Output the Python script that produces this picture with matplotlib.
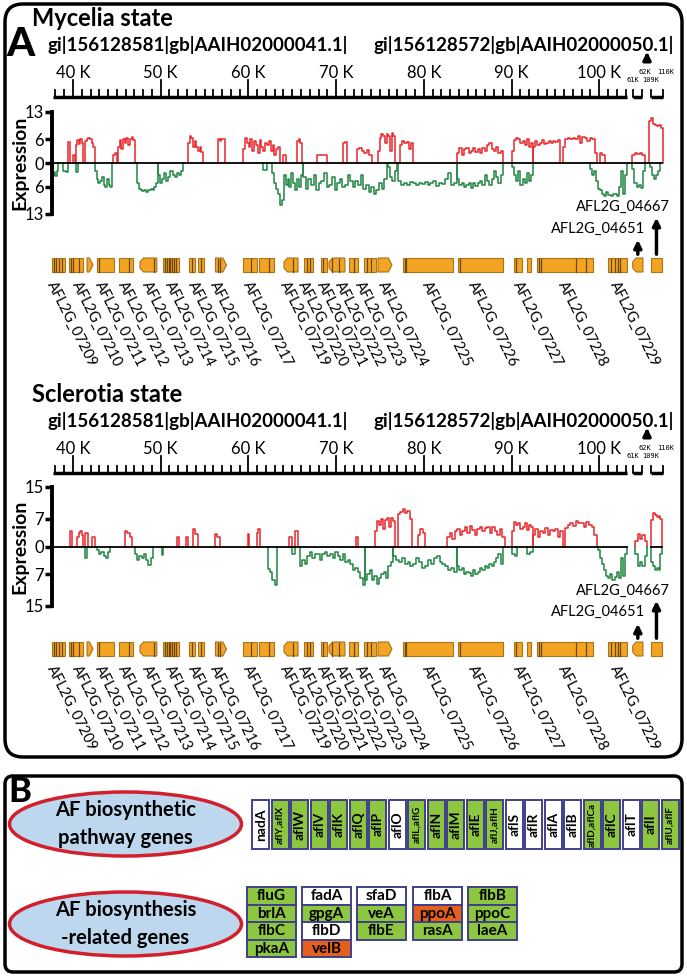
import numpy as np
import matplotlib.pyplot as plt
from matplotlib.patches import Polygon, FancyBboxPatch, Ellipse, Rectangle

plt.rcParams['font.family'] = ['Lato', 'DejaVu Sans']

W, H = 687, 977
RED = '#e8262b'
GREEN = '#1f8540'
ORANGE = '#f4a423'
GENE_EDGE = '#a8731a'
GENE_MARK = '#6b4712'
BOX_EDGE = '#40408a'
LEAF = '#8dc63f'
RUST = '#e5601c'

# ---- expression blocks: (start kb, end kb, |expression| values) ----
# contig 1 (gi|156128581), mycelia state
myc_up = [
    (39.43, 39.66, [5.4]), (40.03, 40.23, [2.1]),
    (40.34, 41.14, [4.5, 5.8, 4.8, 6.0, 5.2]),
    (41.37, 42.51, [5.5, 6.2, 6.4, 6.0, 5.0, 4.0]),
    (44.56, 45.02, [2.0, 2.5]),
    (45.13, 47.07, [4.0, 5.8, 3.5, 6.2, 5.0, 6.5, 4.5, 6.0, 6.6, 5.8]),
    (53.11, 54.82, [5.0, 6.8, 6.5, 4.0, 5.5, 4.2, 3.0, 4.0, 2.8]),
    (56.53, 57.33, [6.0, 5.5, 6.2, 6.0]),
    (59.38, 63.60, [3.5, 6.4, 5.0, 4.0, 6.0, 3.0, 5.5, 4.5, 2.5, 5.8, 4.0, 3.0,
                    5.0, 4.5, 5.5, 3.0, 4.5, 2.0, 3.5, 4.0]),
    (63.94, 64.29, [2.0]), (65.54, 66.11, [5.5, 6.2, 5.0]),
    (67.82, 68.96, [2.0, 2.0]), (70.79, 71.24, [5.0, 5.4]),
    (72.38, 74.09, [3.5, 3.8, 3.0, 2.5, 3.4, 2.0]),
    (74.78, 76.72, [3.0, 6.5, 7.3, 6.8, 5.0, 7.5, 7.0, 3.0, 7.6, 6.8]),
    (77.29, 78.77, [4.5, 5.5, 5.0, 5.3, 3.5, 5.0]),
    (83.79, 89.03, [2.5, 3.8, 2.0, 3.5, 3.8, 2.5, 3.0, 3.7, 2.8, 3.5, 2.5, 3.9,
                    3.0, 4.5, 5.0, 3.5, 3.0, 4.0, 2.5, 3.0]),
    (90.06, 92.45, [3.0, 5.8, 6.4, 6.0, 5.0, 5.5, 4.5, 6.2, 4.0, 5.0]),
    (92.45, 95.53, [4.0, 5.5, 4.5, 5.0, 5.8, 4.8, 5.2, 5.5, 5.0, 5.6, 5.3, 5.8]),
    (95.87, 99.75, [4.0, 6.0, 6.4, 6.2, 6.5, 6.0, 6.8, 5.0, 6.6, 6.3, 5.5, 6.5,
                    6.0, 2.5]),
    (100.09, 100.66, [2.5, 2.0]),
]
myc_down = [
    (37.61, 38.29, [3.0, 2.2, 3.2, 2.0]), (38.86, 39.43, [2.0, 2.2]),
    (40.34, 40.57, [2.2]),
    (42.51, 44.45, [2.0, 4.0, 5.0, 4.5, 3.5, 5.5, 6.0, 4.0, 5.5, 6.2]),
    (47.30, 49.69, [5.0, 6.5, 7.0, 7.2, 7.0, 7.3, 7.0, 6.8, 6.5, 7.0, 6.0, 5.0]),
    (49.69, 52.54, [3.0, 5.0, 4.0, 2.5, 4.5, 3.5, 2.0, 3.0, 3.5, 2.5, 3.0, 2.0]),
    (61.66, 62.12, [1.7]),
    (62.69, 66.23, [2.5, 5.0, 6.5, 8.0, 10.7, 9.5, 3.0, 5.5, 4.0, 6.0, 2.5, 5.0,
                    7.0, 4.0, 6.0, 3.0]),
    (66.23, 75.80, [3.5, 6.5, 4.0, 5.5, 3.0, 6.8, 5.0, 4.5, 2.5, 6.0, 5.5, 3.5,
                    7.0, 5.0, 4.0, 6.0, 5.5, 3.0, 4.5, 6.0, 4.5, 5.5, 3.0, 6.5,
                    5.5, 7.5, 6.0, 8.0, 7.0, 5.0, 6.5, 4.0]),
    (75.92, 76.94, [1.0, 3.5, 4.7, 2.0]),
    (77.06, 83.79, [4.5, 5.5, 5.0, 5.5, 4.8, 5.2, 5.6, 5.0, 5.4, 4.8, 5.5, 5.2,
                    4.6, 5.8, 5.0, 5.3, 4.0, 2.5, 5.5, 5.0]),
    (83.79, 89.03, [4.0, 5.5, 5.0, 6.2, 5.5, 5.0, 6.4, 5.0, 5.8, 5.2, 4.5, 5.5,
                    3.0, 4.5, 5.5, 4.0, 2.0, 3.5, 5.0, 3.0]),
    (90.06, 92.45, [1.0, 3.0, 4.5, 2.0, 5.5, 4.0, 5.0, 2.5, 4.5, 3.0]),
    (98.95, 103.17, [1.5, 3.0, 2.0, 4.5, 6.5, 7.0, 8.0, 8.5, 7.5, 8.2, 8.5, 7.8,
                     8.0, 8.4, 6.0, 2.0, 8.0, 3.0]),
]
# contig 1, sclerotia state
scl_up = [
    (39.66, 39.89, [4.0]), (40.46, 41.14, [2.5, 3.5, 3.8, 2.8]),
    (41.37, 41.71, [3.4]), (42.17, 42.51, [2.3]),
    (45.93, 46.73, [4.0, 3.5, 2.5]), (51.86, 52.09, [2.3]),
    (52.89, 53.11, [2.3]), (53.68, 54.25, [4.3, 3.2]),
    (56.19, 56.76, [3.2, 2.5]), (59.95, 60.07, [3.2]),
    (60.98, 61.32, [3.5, 4.4]), (64.63, 64.97, [2.3]),
    (65.31, 65.66, [3.8]), (72.27, 72.50, [2.3]),
    (74.44, 76.72, [4.0, 6.5, 5.5, 7.0, 4.5, 6.8, 7.2, 5.0, 7.3, 6.5]),
    (77.06, 78.65, [8.3, 8.8, 9.4, 8.5, 9.0, 7.0]),
    (79.34, 80.14, [3.0, 4.3, 3.5]),
    (82.65, 89.26, [2.5, 3.5, 2.0, 3.8, 4.5, 3.0, 4.0, 4.8, 3.5, 5.1, 4.2, 3.0,
                    4.5, 5.0, 3.8, 4.6, 5.0, 3.5, 4.8, 4.0, 3.0, 4.5, 2.5]),
    (90.06, 92.45, [4.0, 6.3, 5.5, 6.0, 4.5, 5.0, 5.8, 4.2, 5.5, 5.0]),
    (92.45, 95.87, [3.0, 4.5, 2.5, 4.0, 3.5, 4.7, 3.0, 4.2, 3.8, 4.5, 2.5, 4.0]),
    (96.10, 99.75, [4.7, 5.5, 6.0, 5.2, 6.4, 5.8, 6.0, 5.0, 6.2, 5.5, 4.8, 3.0]),
]
scl_down = [
    (41.37, 41.60, [3.0]),
    (42.74, 44.22, [1.0, 2.0, 1.5, 2.5, 3.0, 1.5]),
    (47.07, 49.12, [2.0, 3.5, 2.5, 3.0, 2.0, 3.5, 4.7, 3.0]),
    (50.15, 50.26, [2.1]),
    (62.23, 63.26, [5.6, 6.5, 8.5, 9.8]),
    (64.97, 65.31, [2.0]),
    (65.88, 73.30, [5.0, 3.5, 4.5, 2.5, 1.5, 3.0, 2.0, 1.8, 3.5, 2.0, 1.5, 2.5,
                    2.0, 3.0, 1.5, 2.5, 3.5, 2.0, 4.0, 3.5, 4.5, 6.0, 5.5, 6.5,
                    8.0, 9.8]),
    (73.30, 76.49, [8.5, 7.0, 6.0, 8.5, 7.5, 9.4, 8.0, 7.0, 6.5, 8.0, 5.0, 4.0]),
    (76.49, 83.79, [2.5, 3.5, 4.0, 3.0, 4.5, 4.0, 5.0, 4.5, 3.0, 4.0, 5.5, 5.0,
                    3.5, 4.5, 3.0, 2.5, 4.0, 4.5, 5.0, 6.0, 5.5, 6.4]),
    (83.79, 89.03, [5.0, 6.0, 5.5, 7.0, 6.5, 6.8, 7.5, 6.0, 7.0, 6.5, 5.5, 6.0,
                    5.0, 5.5, 4.5, 5.0, 4.0, 3.0, 2.0, 4.5]),
    (90.06, 90.63, [2.0, 2.5]), (91.77, 92.45, [2.0, 1.5]),
    (99.86, 103.17, [1.0, 3.0, 4.5, 6.0, 7.5, 8.0, 7.0, 8.5, 7.8, 6.5, 8.0, 3.0,
                     7.5, 2.0]),
]
# contig 2 (gi|156128572), positions in its own kb
myc_up_c2 = [(60.95, 62.30, [2.0, 2.5, 2.2, 2.5, 2.0]),
             (108.85, 109.95, [10.8, 11.5, 10.0, 9.8, 9.5, 9.6, 9.0])]
myc_down_c2 = [(60.95, 62.30, [1.5, 5.0, 6.0, 5.5, 6.4, 2.0]),
               (108.92, 109.75, [1.0, 3.0, 4.0, 3.0, 2.0])]
scl_up_c2 = [(61.26, 62.50, [1.3, 3.2, 2.0, 3.0, 1.5]),
             (109.00, 109.93, [6.8, 8.5, 8.0, 7.5, 7.8, 7.0])]
scl_down_c2 = [(61.26, 62.50, [2.0, 5.0, 4.0, 5.0, 2.5]),
               (109.00, 109.93, [4.0, 5.0, 6.0, 5.5, 6.0, 2.0])]

# ---- gene models (contig 1, kb) ----
gene_start = [37.55, 39.51, 41.60, 42.68, 45.25, 47.64, 50.26, 53.20, 54.23,
              56.24, 59.38, 61.21, 64.06, 66.34, 68.24, 69.19, 71.52, 73.18,
              74.78, 77.59, 83.90, 90.28, 91.73, 92.87, 101.00]
gene_end = [39.04, 41.14, 42.28, 44.65, 46.89, 49.56, 52.09, 53.91, 54.94,
            57.50, 60.98, 62.87, 65.66, 67.31, 68.96, 71.01, 72.45, 74.55,
            76.37, 83.30, 89.03, 91.16, 92.19, 99.29, 103.17]
gene_shape = ['box', 'box', 'arrow', 'box', 'box', 'round', 'box', 'box', 'box',
              'arrow', 'box', 'box', 'round', 'box', 'box', 'round', 'box', 'box',
              'arrow', 'box', 'box', 'box', 'box', 'box', 'box']
gene_marks = [[37.8, 38.1, 38.4, 38.7], [39.8, 40.0, 40.7], [], [43.0], [46.4],
              [49.2], [50.5, 50.7, 50.9, 51.1, 51.3, 51.5, 51.7], [53.6], [54.6],
              [56.5, 56.8], [60.3], [62.3], [65.1], [66.7, 67.0], [68.5],
              [69.5, 70.3], [72.0], [73.5, 74.0], [], [77.8, 78.0], [84.1],
              [90.5], [], [93.1, 93.4, 97.4, 98.5], [101.4, 101.8, 102.1, 102.4]]
c2_gene_start = [61.0, 109.0]
c2_gene_end = [62.08, 109.89]
c2_gene_shape = ['round', 'box']
c2_gene_names = ['AFL2G_04651', 'AFL2G_04667']

label_kb = [38.14, 40.99, 43.65, 46.27, 48.97, 51.63, 54.25, 56.76, 60.52,
            64.74, 66.80, 68.96, 71.02, 73.30, 75.92, 80.93, 86.18, 91.31,
            96.44, 102.37]
label_names = ['AFL2G_07209', 'AFL2G_07210', 'AFL2G_07211', 'AFL2G_07212',
               'AFL2G_07213', 'AFL2G_07214', 'AFL2G_07215', 'AFL2G_07216',
               'AFL2G_07217', 'AFL2G_07219', 'AFL2G_07220', 'AFL2G_07221',
               'AFL2G_07222', 'AFL2G_07223', 'AFL2G_07224', 'AFL2G_07225',
               'AFL2G_07226', 'AFL2G_07227', 'AFL2G_07228', 'AFL2G_07229']

# ---- panel B ----
pathway_genes = ['nadA', 'aflY,aflX', 'aflW', 'aflV', 'aflK', 'aflQ', 'aflP',
                 'aflO', 'aflL,aflG', 'aflN', 'aflM', 'aflE', 'aflJ,aflH', 'aflS',
                 'aflR', 'aflA', 'aflB', 'aflD,aflCa', 'aflC', 'aflT', 'aflI',
                 'aflU,aflF']
pathway_color = ['w', 'g', 'g', 'g', 'g', 'g', 'g', 'w', 'g', 'g', 'g', 'g', 'g',
                 'w', 'w', 'w', 'w', 'g', 'g', 'w', 'g', 'g']
related_cols = [['fluG', 'brlA', 'flbC', 'pkaA'],
                ['fadA', 'gpgA', 'flbD', 'velB'],
                ['sfaD', 'veA', 'flbE'],
                ['flbA', 'ppoA', 'rasA'],
                ['flbB', 'ppoC', 'laeA']]
related_color = [['g', 'g', 'g', 'g'],
                 ['w', 'g', 'w', 'o'],
                 ['w', 'g', 'g'],
                 ['w', 'o', 'g'],
                 ['g', 'g', 'g']]
FILL = {'w': 'white', 'g': LEAF, 'o': RUST}


def px2kb(px):
    return 40 + (px - 73) / 8.77


def c2(kb):
    # place contig-2 coordinates into the broken right end of the ruler
    kb = np.asarray(kb, float)
    return np.where(kb < 85, 103.82 + (kb - 61) * 1.083, 105.92 + (kb - 109) * 1.368)


def draw_blocks(ax, blocks, sign, color, xmap=None):
    for s, e, vals in blocks:
        vals = np.asarray(vals, float)
        edges = np.linspace(s, e, len(vals) + 1)
        if xmap is not None:
            edges = xmap(edges)
        xs = np.concatenate([[edges[0]], np.repeat(edges, 2)[1:-1], [edges[-1]]])
        ys = np.concatenate([[0], np.repeat(vals, 2), [0]]) * sign
        ax.plot(xs, ys, color=color, lw=1.1, zorder=2)


def gene_poly(s, e, shape, y0, y1):
    tip = 0.4
    ym = (y0 + y1) / 2
    if shape == 'arrow':
        pts = [(s, y0), (e - tip, y0), (e, ym), (e - tip, y1), (s, y1)]
    elif shape == 'round':
        pts = [(s + tip, y0), (e, y0), (e, y1), (s + tip, y1), (s, ym + 3), (s, ym - 3)]
    else:
        pts = [(s, y0), (e, y0), (e, y1), (s, y1)]
    return Polygon(pts, closed=True, fc=ORANGE, ec=GENE_EDGE, lw=0.8, zorder=3)


fig = plt.figure(figsize=(W / 100, H / 100), dpi=100)
ov = fig.add_axes([0, 0, 1, 1])
ov.set_xlim(0, W)
ov.set_ylim(H, 0)
ov.axis('off')
trk = fig.add_axes([0, 0, 1, 1], facecolor='none')
trk.set_xlim(px2kb(0), px2kb(W))
trk.set_ylim(H, 0)
trk.axis('off')

# panel frames
ov.add_patch(FancyBboxPatch((5, 4), 677, 753, boxstyle='round,pad=0,rounding_size=18',
                            fc='none', ec='k', lw=2.5))
ov.add_patch(FancyBboxPatch((5, 776), 677, 196, boxstyle='round,pad=0,rounding_size=8',
                            fc='none', ec='k', lw=2.5))
ov.text(20, 45, 'A', fontsize=29, fontweight='black', ha='center', va='center')
ov.text(20, 792, 'B', fontsize=25, fontweight='black', ha='center', va='center')

states = [
    dict(title='Mycelia state', y=0, top=112, bottom=214, lim=13, ticks=[-13, -6, 0, 6, 13],
         up=myc_up, down=myc_down, up2=myc_up_c2, down2=myc_down_c2,
         gene_y=258, lab_y=[207, 229], arrow_top=[237, 215]),
    dict(title='Sclerotia state', y=376, top=487, bottom=606, lim=15, ticks=[-15, -7, 0, 7, 15],
         up=scl_up, down=scl_down, up2=scl_up_c2, down2=scl_down_c2,
         gene_y=642, lab_y=[591, 612], arrow_top=[621, 598]),
]

for st in states:
    dy = st['y']
    ov.text(32, 19 + dy, st['title'], fontsize=17, fontweight='bold', va='center')
    ov.text(48, 45 + dy, 'gi|156128581|gb|AAIH02000041.1|', fontsize=13.5,
            fontweight='bold', va='center')
    ov.text(374, 45 + dy, 'gi|156128572|gb|AAIH02000050.1|', fontsize=13.5,
            fontweight='bold', va='center')
    ov.annotate('', xy=(647, 49 + dy), xytext=(647, 62 + dy),
                arrowprops=dict(arrowstyle='-|>', lw=2.5, color='k', mutation_scale=11))

    # ruler
    ry = 97 + dy
    trk.plot([37.7, 103.2], [ry, ry], color='k', lw=2.5, solid_capstyle='butt')
    for k in range(38, 104):
        top = ry - 17 if k % 10 == 0 else ry - 7
        trk.plot([k, k], [ry, top], color='k', lw=1.3)
        if k % 10 == 0:
            trk.text(k, 73 + dy, f'{k} K', fontsize=12, ha='center', va='center')
    for a, b in [(61, 62), (109, 110)]:
        xa, xb = float(c2(a)), float(c2(b))
        trk.plot([xa, xb], [ry, ry], color='k', lw=2.5, solid_capstyle='butt')
        trk.plot([xa, xa], [ry, ry - 7], color='k', lw=1.3)
        trk.plot([xb, xb], [ry, ry - 7], color='k', lw=1.3)
        trk.text(xa, 80 + dy, f'{a}K', fontsize=5, ha='center', va='center',
                 family='DejaVu Sans Mono')
        trk.text(xb + 0.3, 72 + dy, f'{b}K', fontsize=5, ha='center', va='center',
                 family='DejaVu Sans Mono')

    # expression track
    ax = fig.add_axes([52 / W, 1 - st['bottom'] / H, (685 - 52) / W,
                       (st['bottom'] - st['top']) / H], facecolor='none')
    ax.set_xlim(px2kb(52), px2kb(685))
    ax.set_ylim(-st['lim'], st['lim'])
    for s in ['top', 'right', 'bottom']:
        ax.spines[s].set_visible(False)
    ax.spines['left'].set_linewidth(2.8)
    ax.set_xticks([])
    ax.set_yticks(st['ticks'])
    ax.set_yticklabels([str(abs(t)) for t in st['ticks']])
    ax.tick_params(axis='y', direction='out', length=5, width=2.5, labelsize=12, pad=1)
    draw_blocks(ax, st['up'], 1, RED)
    draw_blocks(ax, st['down'], -1, GREEN)
    draw_blocks(ax, st['up2'], 1, RED, c2)
    draw_blocks(ax, st['down2'], -1, GREEN, c2)
    if st['y'] == 0:
        ax.plot([37.6, float(c2(109.93))], [0, 0], color='k', lw=1.3, zorder=4)
    else:
        ax.plot([37.6, 103.2], [0, 0], color='k', lw=1.3, zorder=4)
        ax.plot([float(c2(109.0)), float(c2(109.93))], [0, 0], color='k', lw=1.3, zorder=4)
    ov.text(20, (st['top'] + st['bottom']) / 2, 'Expression', rotation=90, fontsize=14,
            fontweight='bold', ha='center', va='center')

    # gene models
    gy0, gy1 = st['gene_y'], st['gene_y'] + 14
    for s, e, shp, marks in zip(gene_start, gene_end, gene_shape, gene_marks):
        trk.add_patch(gene_poly(s, e, shp, gy0, gy1))
        for m in marks:
            trk.plot([m, m], [gy0 + 0.5, gy1 - 0.5], color=GENE_MARK, lw=0.9, zorder=4)
    for s, e, shp in zip(c2_gene_start, c2_gene_end, c2_gene_shape):
        trk.add_patch(gene_poly(float(c2(s)), float(c2(e)), shp, gy0, gy1))
    for kb, name in zip(label_kb, label_names):
        trk.text(kb, gy1 + 7, name, rotation=-63, rotation_mode='anchor', ha='left',
                 va='top', fontsize=10.5)

    # contig-2 gene call-outs
    for i, (s, e, name) in enumerate(zip(c2_gene_start, c2_gene_end, c2_gene_names)):
        xm = float(c2((s + e) / 2))
        trk.annotate('', xy=(xm, st['arrow_top'][i]), xytext=(xm, gy0 - 1),
                     arrowprops=dict(arrowstyle='-|>', lw=2.5, color='k', mutation_scale=11))
    ov.text(645, st['lab_y'][1], c2_gene_names[0], fontsize=10.5, ha='right', va='center')
    ov.text(670, st['lab_y'][0], c2_gene_names[1], fontsize=10.5, ha='right', va='center')

# ---- panel B ----
for cy, lines in [(824, 'AF biosynthetic\npathway genes'),
                  (924, 'AF biosynthesis\n-related genes')]:
    ov.add_patch(Ellipse((125.5, cy), 232, 64, fc='#bdd7ee', ec='#d21f2b', lw=2.5))
    ov.text(125.5, cy, lines, fontsize=14.5, fontweight='bold', ha='center', va='center',
            linespacing=1.5)

pitch = (681 - 252) / len(pathway_genes)
for i, (g, c) in enumerate(zip(pathway_genes, pathway_color)):
    x0 = 252 + i * pitch
    ov.add_patch(Rectangle((x0, 800), pitch - 2.2, 49, fc=FILL[c], ec=BOX_EDGE, lw=1.4))
    ov.text(x0 + (pitch - 2.2) / 2, 824.5, g, rotation=90, ha='center', va='center',
            fontweight='bold', fontsize=7.2 if ',' in g else 10)

col_x = [247, 302, 357, 413, 468]
for x0, names, cols in zip(col_x, related_cols, related_color):
    for j, (g, c) in enumerate(zip(names, cols)):
        y0 = 887 + j * 17.6
        ov.add_patch(Rectangle((x0, y0), 49, 17.6, fc=FILL[c], ec=BOX_EDGE, lw=1.4))
        ov.text(x0 + 24.5, y0 + 9, g, ha='center', va='center', fontweight='bold',
                fontsize=11)

fig.savefig('out.png', dpi=100)
